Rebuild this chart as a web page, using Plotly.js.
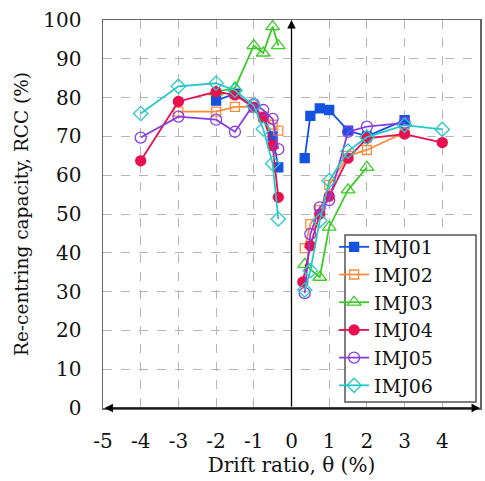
<!DOCTYPE html>
<html>
<head>
<meta charset="utf-8">
<script src="https://cdn.plot.ly/plotly-3.0.1.min.js"></script>
<style>html,body{margin:0;padding:0;background:#fff;}#chart{width:485px;height:481px;}</style>
</head>
<body>
<div id="chart"></div>
<script>
// Drift ratio (%) values per specimen; null separates negative and positive branches
const seriesNames = ["IMJ01", "IMJ02", "IMJ03", "IMJ04", "IMJ05", "IMJ06"];

const imj01X = [-2, -1.5, -1, -0.75, -0.5, -0.35, null, 0.35, 0.5, 0.75, 1, 1.5, 2, 3];
const imj01Y = [79.2, 81, 77.5, 75, 70, 62, null, 64.4, 75.3, 77.2, 76.8, 71.5, 70, 74.2];

const imj02X = [-3, -2, -1.5, -1, -0.75, -0.5, -0.35, null, 0.35, 0.5, 0.75, 1, 1.5, 2, 3];
const imj02Y = [76.4, 76.4, 77.6, 77.6, 75, 73, 71.5, null, 41.2, 47.4, 51, 57.5, 65, 66.5, 71];

const imj03X = [-2, -1.5, -1, -0.75, -0.5, -0.35, null, 0.35, 0.75, 1, 1.5, 2];
const imj03Y = [81.5, 82.5, 93.4, 91.5, 98.3, 93.4, null, 37, 33.7, 46.6, 56.2, 62];

const imj04X = [-4, -3, -2, -1.5, -1, -0.75, -0.5, -0.35, null, 0.3, 0.5, 0.75, 1, 1.5, 2, 3, 4];
const imj04Y = [63.7, 79, 81.5, 80.7, 77.5, 74.9, 67.6, 54.3, null, 32.5, 41.8, 50, 54.6, 64.4, 69.5, 70.6, 68.4];

const imj05X = [-4, -3, -2, -1.5, -1, -0.75, -0.5, -0.35, null, 0.35, 0.5, 0.75, 1, 1.5, 2, 3];
const imj05Y = [69.7, 75.1, 74.3, 71.2, 78.3, 76.8, 74.5, 66.7, null, 29.6, 44.8, 51.7, 53.6, 71.2, 72.5, 73.5];

const imj06X = [-4, -3, -2, -1.5, -1, -0.75, -0.5, -0.35, null, 0.35, 0.5, 0.75, 1, 1.5, 2, 3, 4];
const imj06Y = [75.9, 82.9, 83.7, 81.9, 77.9, 71.9, 63, 48.7, null, 30.4, 35.4, 48.3, 58.6, 66.2, 69.8, 72.9, 71.8];

const xTicks = [-5, -4, -3, -2, -1, 0, 1, 2, 3, 4, 5];
const yTicks = [0, 10, 20, 30, 40, 50, 60, 70, 80, 90, 100];

const xs = [imj01X, imj02X, imj03X, imj04X, imj05X, imj06X];
const ys = [imj01Y, imj02Y, imj03Y, imj04Y, imj05Y, imj06Y];
const colors = ["#1452e0", "#ff8a3a", "#3acc24", "#ea0f4f", "#8a3ee0", "#26c9c9"];
const symbols = ["square", "square-open", "triangle-up-open", "circle", "circle-open", "diamond-open"];
const sizes = [9, 9, 12, 10, 11, 11];

const traces = seriesNames.map((n, i) => ({
  type: "scatter", mode: "lines+markers", name: n,
  x: xs[i], y: ys[i], connectgaps: false, cliponaxis: false,
  line: {color: colors[i], width: 1.8},
  marker: {symbol: symbols[i], size: sizes[i], color: colors[i], line: {color: colors[i], width: 1.3}}
}));

const tickFont = {family: "DejaVu Serif", size: 20, color: "#111"};

const layout = {
  width: 485, height: 481,
  margin: {l: 103, r: 5, t: 20, b: 73},
  paper_bgcolor: "#fff", plot_bgcolor: "#fff",
  font: tickFont,
  showlegend: true,
  legend: {x: 0.613, y: 0.464, xanchor: "left", yanchor: "top", bgcolor: "rgba(0,0,0,0)",
           borderwidth: 0, font: {family: "DejaVu Serif", size: 19, color: "#111"},
           tracegroupgap: 0, itemwidth: 30},
  shapes: [
    {type: "rect", xref: "paper", yref: "paper", layer: "above",
     x0: (345 - 103) / 377, x1: (476 - 103) / 377, y0: (408 - 402) / 388, y1: (408 - 235) / 388,
     fillcolor: "#fff", line: {color: "#555", width: 1.5}}
  ],
  xaxis: {range: [-5, 5], tickvals: xTicks, ticktext: xTicks.map(String), showgrid: true,
          gridcolor: "#b5b5b5", griddash: "dash", gridwidth: 1, zeroline: false,
          showline: true, mirror: true, linecolor: "#666", linewidth: 1.5, ticks: "",
          ticklabelstandoff: 14, fixedrange: true, tickfont: tickFont,
          title: {text: "Drift ratio, θ (%)", font: {family: "DejaVu Serif", size: 20, color: "#111"}, standoff: 3}},
  yaxis: {range: [0, 100], tickvals: yTicks, ticktext: yTicks.map(String), showgrid: true,
          gridcolor: "#b5b5b5", griddash: "dash", gridwidth: 1, zeroline: false,
          showline: true, mirror: true, linecolor: "#666", linewidth: 1.5, ticks: "",
          ticklabelstandoff: 16, fixedrange: true, tickfont: tickFont,
          title: {text: "Re-centring capacity, RCC (%)", font: {family: "DejaVu Serif", size: 18.5, color: "#111"}, standoff: 10}},
  annotations: [
    {x: 0, y: 100, ax: 0, ay: 0, xref: "x", yref: "y", axref: "x", ayref: "y", text: "",
     showarrow: true, arrowhead: 2, arrowsize: 1.3, arrowwidth: 1.3, arrowcolor: "#000"},
    {x: 5, y: 0, ax: -5, ay: 0, xref: "x", yref: "y", axref: "x", ayref: "y", text: "",
     showarrow: true, arrowhead: 2, arrowside: "end+start", arrowsize: 1.3, arrowwidth: 1.3, arrowcolor: "#000"}
  ]
};

Plotly.newPlot("chart", traces, layout, {displayModeBar: false, staticPlot: true});
</script>
</body>
</html>
